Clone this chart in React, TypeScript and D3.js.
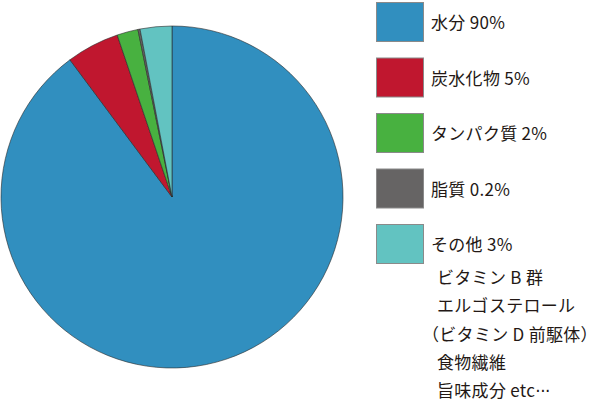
import React, { useEffect, useRef } from 'react';
import * as d3 from 'd3';

const labels = ['水分 90%', '炭水化物 5%', 'タンパク質 2%', '脂質 0.2%', 'その他 3%'];
const values = [90, 5, 2, 0.2, 3];
const colors = ['#318fbf', '#c0172f', '#48b140', '#666464', '#62c3c1'];
const notes = ['ビタミン B 群', 'エルゴステロール', '（ビタミン D 前駆体）', '食物繊維', '旨味成分 etc'];

export default function App() {
  const svgRef = useRef<SVGSVGElement>(null);

  useEffect(() => {
    if (!svgRef.current) return;
    const svg = d3.select(svgRef.current);
    svg.selectAll('*').remove();

    const cx = 172;
    const cy = 197;
    const r = 171;

    // 12時から時計回り
    const pie = d3.pie<number>().sort(null);
    const arc = d3.arc<d3.PieArcDatum<number>>().innerRadius(0).outerRadius(r);

    const g = svg.append('g').attr('transform', `translate(${cx},${cy})`);
    g.selectAll('path')
      .data(pie(values))
      .enter().append('path')
      .attr('d', (d) => arc(d))
      .attr('fill', (_, i) => colors[i])
      .attr('stroke', '#2a2a2a')
      .attr('stroke-width', 0.6);

    const legend = svg.append('g').attr('font-family', '"Noto Sans CJK JP", sans-serif');
    const step = d3.scalePoint<number>().domain(d3.range(labels.length)).range([2, 224]);

    labels.forEach((label, i) => {
      const y = step(i)!;
      legend.append('rect')
        .attr('x', 376.5)
        .attr('y', y + 0.5)
        .attr('width', 47)
        .attr('height', 39)
        .attr('fill', colors[i])
        .attr('stroke', '#8a8a8a')
        .attr('stroke-width', 1);
      legend.append('text')
        .attr('x', 431)
        .attr('y', y + 27)
        .attr('font-size', 17)
        .attr('letter-spacing', 0.3)
        .attr('fill', '#231815')
        .text(label);
    });

    const lineY = d3.scaleLinear().domain([0, notes.length - 1]).range([284, 397]);
    notes.forEach((t, i) => {
      const txt = legend.append('text')
        .attr('x', i === 2 ? 422 : 437)
        .attr('y', lineY(i))
        .attr('font-size', 17)
        .attr('letter-spacing', 0.3)
        .attr('fill', '#231815')
        .text(t);
      // 最後の行は中点の三点リーダー
      if (i === notes.length - 1) {
        txt.append('tspan')
          .attr('font-family', '"DejaVu Sans", sans-serif')
          .attr('letter-spacing', -0.5)
          .text('···');
      }
    });
  }, []);

  return (
    <div style={{ position: 'absolute', left: 0, top: 0 }}>
      <svg ref={svgRef} width={600} height={417}></svg>
    </div>
  );
}
